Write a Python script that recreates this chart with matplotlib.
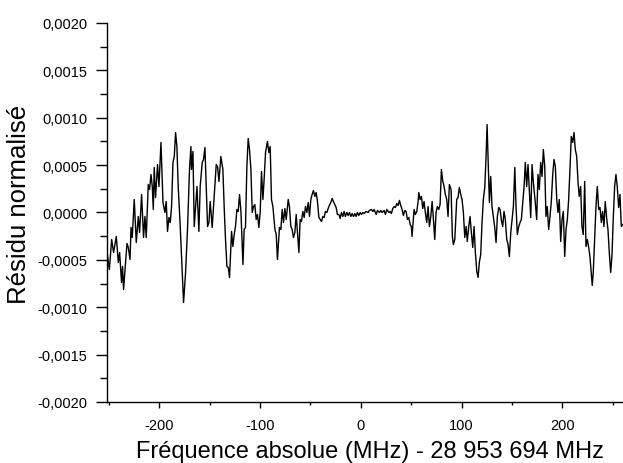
import numpy as np
import matplotlib
matplotlib.use('Agg')
import matplotlib.pyplot as plt
from matplotlib.ticker import FuncFormatter, MultipleLocator

# Fréquence relative (MHz) et résidu normalisé (unités de 1e-4), par tronçon
freq_a = [-251.4, -249.4, -247.1, -245.2, -242.5, -240.5, -239.2, -237.3, -236.3, -235.3,
          -233.3, -231.9, -230.6, -228.9, -227.9, -226.7, -224.7, -222.7, -220.7, -219.4,
          -217.4, -215.5, -214.1, -212.8, -210.8, -209.5, -208.1, -206.8, -205.8, -204.9,
          -203.6, -201.6, -200.2, -198.2, -196.2, -194.3, -193.0, -191.7, -190.3, -189.0,
          -187.7, -186.3, -185.0, -183.7, -182.4, -181.1, -179.1, -177.1, -175.8, -173.8,
          -171.9, -169.9, -168.5]
res_a = [-4.43, -6.01, -2.85, -4.22, -2.53, -5.28, -4.22, -7.39, -5.70, -8.12,
         -5.28, -3.27, -3.69, -4.96, -1.58, -2.64, 1.37, -3.17, -0.42, -2.11,
         1.90, -2.64, -0.42, -2.64, 2.95, 2.43, 4.01, 2.74, 0.32, 4.75,
         1.58, 5.06, 2.74, 7.39, 1.06, 0.00, 1.16, -2.00, -0.53, -1.06,
         0.63, 5.28, 5.91, 8.44, 6.96, 2.74, -1.48, -6.33, -9.50, -6.33,
         -1.79, 4.54, 6.96]

freq_b = [-167.9, -166.5, -165.2, -162.5, -160.6, -159.3, -157.3, -156.0, -154.6, -153.3,
          -152.0, -150.6, -149.4, -147.4, -145.4, -143.4, -142.1, -140.7, -138.8, -136.8,
          -135.5, -134.2, -132.8, -131.5, -130.2, -128.2, -126.9, -125.6, -124.3, -122.9,
          -121.6, -120.3, -118.9, -116.9, -115.7, -114.4, -113.0, -111.7, -110.4, -109.0,
          -107.7, -106.4, -105.1, -103.8, -102.5, -101.1, -99.8, -98.5, -97.1, -95.8,
          -94.5, -92.6, -91.2, -89.9, -88.6, -87.2, -85.2, -83.9, -82.7]
res_b = [4.54, 6.44, -1.48, 2.74, -2.00, 2.74, 5.28, 5.59, 6.86, 2.74,
         -1.48, -1.06, 1.16, -1.58, 1.69, 5.06, 4.85, 3.27, 5.91, 4.54,
         0.53, -2.85, -5.70, -5.80, -6.86, -2.00, -3.59, -2.32, -1.48, 0.32,
         0.11, 1.90, 0.11, -5.49, -1.79, -1.58, 4.85, 7.81, 6.65, 4.54,
         0.00, 0.63, 0.84, -0.74, -0.21, -1.58, 0.00, 4.33, 1.37, 3.69,
         6.33, 7.49, 6.33, 6.96, 1.37, 0.63, -1.79, -2.32, -4.96]

freq_c = [-80.7, -79.3, -78.0, -76.7, -75.3, -74.0, -72.0, -70.8, -69.4, -68.1,
          -66.8, -65.4, -64.1, -62.8, -61.4, -60.2, -58.9, -57.5, -56.2, -54.9,
          -53.5, -52.2, -50.9, -49.6, -48.3, -47.0, -45.6, -44.3, -43.0, -41.6,
          -40.3, -39.0, -37.7, -36.4, -35.1, -33.7, -31.7, -29.7, -28.4, -27.2,
          -25.8, -24.5, -23.2, -21.8, -20.5, -19.2, -17.8, -16.6, -15.3, -13.9,
          -12.6, -11.3, -9.9, -8.6, -7.3, -5.9, -4.7, -3.4, -2.0, -0.7,
          0.6, 2.0]
res_c = [-1.58, -1.79, 0.32, -1.06, 0.42, -0.74, 1.37, 0.63, -1.48, -1.79,
         -2.64, -2.11, -0.21, -2.11, -4.22, -0.74, -0.95, 0.11, -0.53, 0.63,
         0.00, 1.06, -0.42, 1.37, 1.90, 2.32, 1.69, 2.11, 1.16, -0.53,
         -0.74, -0.95, -0.42, -0.53, 0.11, 0.00, 0.63, 1.06, 1.48, 1.16,
         0.84, 0.53, -0.21, -0.21, -0.63, 0.00, -0.42, 0.11, -0.42, 0.00,
         -0.32, 0.00, -0.42, -0.11, -0.42, -0.11, -0.42, 0.00, -0.32, 0.00,
         -0.21, 0.00]

freq_d = [3.3, 5.2, 7.2, 8.5, 10.5, 11.9, 13.2, 15.2, 16.5, 18.4,
          19.8, 21.1, 23.1, 24.4, 25.8, 27.8, 29.0, 30.3, 31.7, 33.0,
          34.3, 35.7, 37.0, 38.3, 39.6, 40.9, 42.2, 43.6, 44.9, 46.2,
          47.6, 48.9, 50.1, 50.8, 52.1, 52.8, 54.1, 55.5, 56.8, 57.5,
          58.8, 60.1, 61.4, 62.7, 64.0, 65.4, 66.7, 68.0, 69.4, 70.7,
          72.0, 73.3, 74.6, 75.9, 77.3, 78.6, 79.9, 81.3, 82.6, 83.8,
          85.2, 86.5, 87.8]
res_d = [-0.11, 0.11, 0.00, 0.21, 0.32, 0.11, 0.32, -0.21, 0.21, 0.00,
         0.21, 0.00, 0.21, -0.21, 0.32, 0.00, 0.11, -0.11, 0.42, 0.63,
         0.53, 0.95, 0.74, 1.27, 0.74, 0.32, -0.32, 0.21, 0.11, -0.74,
         -0.53, -1.27, -1.48, -2.53, -0.74, 0.32, -0.21, 0.11, 1.16, 2.11,
         1.37, 1.69, 0.42, 1.16, 0.00, -1.06, 0.63, -1.48, -0.42, 1.16,
         -0.74, -2.85, 0.00, 0.63, 0.32, 0.84, 4.54, 3.27, 2.74, 1.90,
         1.37, -0.42, 2.95]

freq_e = [89.5, 90.8, 91.8, 93.2, 95.1, 96.4, 97.7, 99.1, 100.4, 101.7,
          103.1, 104.4, 105.6, 107.0, 108.3, 109.6, 111.0, 112.3, 113.6, 115.0,
          116.3, 117.5, 118.9, 120.2, 121.5, 122.9, 124.2, 125.2, 126.2, 127.5,
          128.8, 130.1, 131.4, 132.8, 134.1, 135.4, 136.8, 138.1, 139.3, 140.7,
          142.0, 143.3, 144.7, 146.0, 147.3, 148.7, 150.0, 151.3, 152.7, 153.9,
          155.2, 156.6, 157.9, 159.2, 160.6, 161.9, 163.1, 164.5, 165.8, 167.1,
          168.5, 169.8, 171.1, 172.5]
res_e = [2.43, -2.53, -3.38, -2.85, 1.37, 1.58, 2.64, 1.90, 1.37, 0.00,
         -2.64, -1.48, -3.06, -1.48, -0.42, -2.11, -3.69, -1.48, -4.22, -6.22,
         -6.86, -5.28, -4.43, -1.06, 1.37, 2.64, 5.91, 9.28, 5.59, 1.06,
         3.80, 0.63, -0.42, -1.58, -3.17, -0.42, 0.53, 0.32, -0.74, -1.48,
         0.11, -0.74, -2.85, -3.38, -4.64, -2.11, -0.74, 0.63, 4.75, 0.63,
         -2.32, -1.48, -1.06, -0.74, 1.06, 2.74, 5.28, 2.74, 5.06, 2.43,
         -0.53, 5.06, 3.17, 1.69]

freq_f = [173.0, 174.4, 175.7, 177.0, 178.4, 179.7, 181.0, 182.4, 183.6, 184.9,
          186.3, 187.6, 188.9, 190.3, 191.6, 192.9, 194.3, 195.5, 196.8, 198.2,
          199.5, 200.8, 202.2, 203.5, 204.8, 206.1, 207.4, 208.7, 210.1, 211.4,
          212.7, 214.1, 215.4, 216.6, 218.0, 219.3, 220.6, 222.0, 223.3, 224.6,
          226.0, 227.2, 228.5, 229.5, 230.5, 231.9, 233.2, 234.5, 235.9, 237.2,
          238.5, 239.8, 241.1, 242.4, 243.9, 245.1, 246.4, 247.8, 249.1, 250.3,
          251.7, 253.0, 254.3, 255.7, 257.0, 258.3, 259.7]
res_f = [1.06, -0.74, 4.01, 2.43, 5.28, 3.80, 6.65, 4.85, -0.42, 0.63,
         -1.79, -0.42, 1.16, 4.01, 5.59, 4.85, 1.37, 0.00, 1.37, -3.06,
         -0.74, 0.11, -4.64, -1.79, -0.74, 1.37, 4.54, 8.02, 7.39, 8.44,
         6.65, 5.91, 3.17, 1.69, 2.74, -1.48, -2.32, 3.27, -3.59, -2.85,
         -3.69, -4.64, -6.33, -7.70, -6.33, -2.85, 0.63, 2.74, 0.32, 0.53,
         -1.06, 0.11, -1.48, 1.16, -0.74, -1.79, -4.22, -6.33, -4.43, -0.74,
         2.74, 4.01, 2.74, 0.53, 1.90, -1.48, -1.27]

x_ticks = [-200, -100, 0, 100, 200]
y_ticks = [-0.0020, -0.0015, -0.0010, -0.0005, 0.0, 0.0005, 0.0010, 0.0015, 0.0020]

freq = np.concatenate([freq_a, freq_b, freq_c, freq_d, freq_e, freq_f])
residu = np.concatenate([res_a, res_b, res_c, res_d, res_e, res_f]) * 1e-4

plt.rcParams['font.family'] = ['Liberation Sans', 'DejaVu Sans']
plt.rcParams['axes.unicode_minus'] = False

fig = plt.figure(figsize=(6.23, 4.64), dpi=100)
ax = fig.add_axes([0.1713, 0.1315, 0.8287, 0.8168])
ax.plot(freq, residu, color='black', linewidth=1.0)

ax.set_xlim(-252, 260)
ax.set_ylim(-0.0020, 0.0020)
ax.set_xticks(x_ticks)
ax.set_yticks(y_ticks)
ax.xaxis.set_minor_locator(MultipleLocator(50))
ax.yaxis.set_minor_locator(MultipleLocator(0.00025))
ax.yaxis.set_major_formatter(FuncFormatter(lambda v, p: f'{v:.4f}'.replace('.', ',')))

for side in ['top', 'right']:
    ax.spines[side].set_visible(False)
for side in ['left', 'bottom']:
    ax.spines[side].set_linewidth(1.0)

ax.tick_params(axis='y', which='major', direction='out', length=8, width=1.0, pad=6, labelsize=10.5)
ax.tick_params(axis='y', which='minor', direction='out', length=5, width=1.0)
ax.tick_params(axis='x', which='major', direction='out', length=4.5, width=1.0, pad=7, labelsize=10.5)
ax.tick_params(axis='x', which='minor', direction='out', length=2.5, width=1.0)

fig.text(0.593, 0.013, 'Fréquence absolue (MHz) - 28 953 694 MHz', fontsize=17,
         ha='center', va='baseline')
fig.text(0.031, 0.56, 'Résidu normalisé', fontsize=18.5, rotation=90,
         ha='center', va='center')

fig.savefig('out.png', dpi=100)
